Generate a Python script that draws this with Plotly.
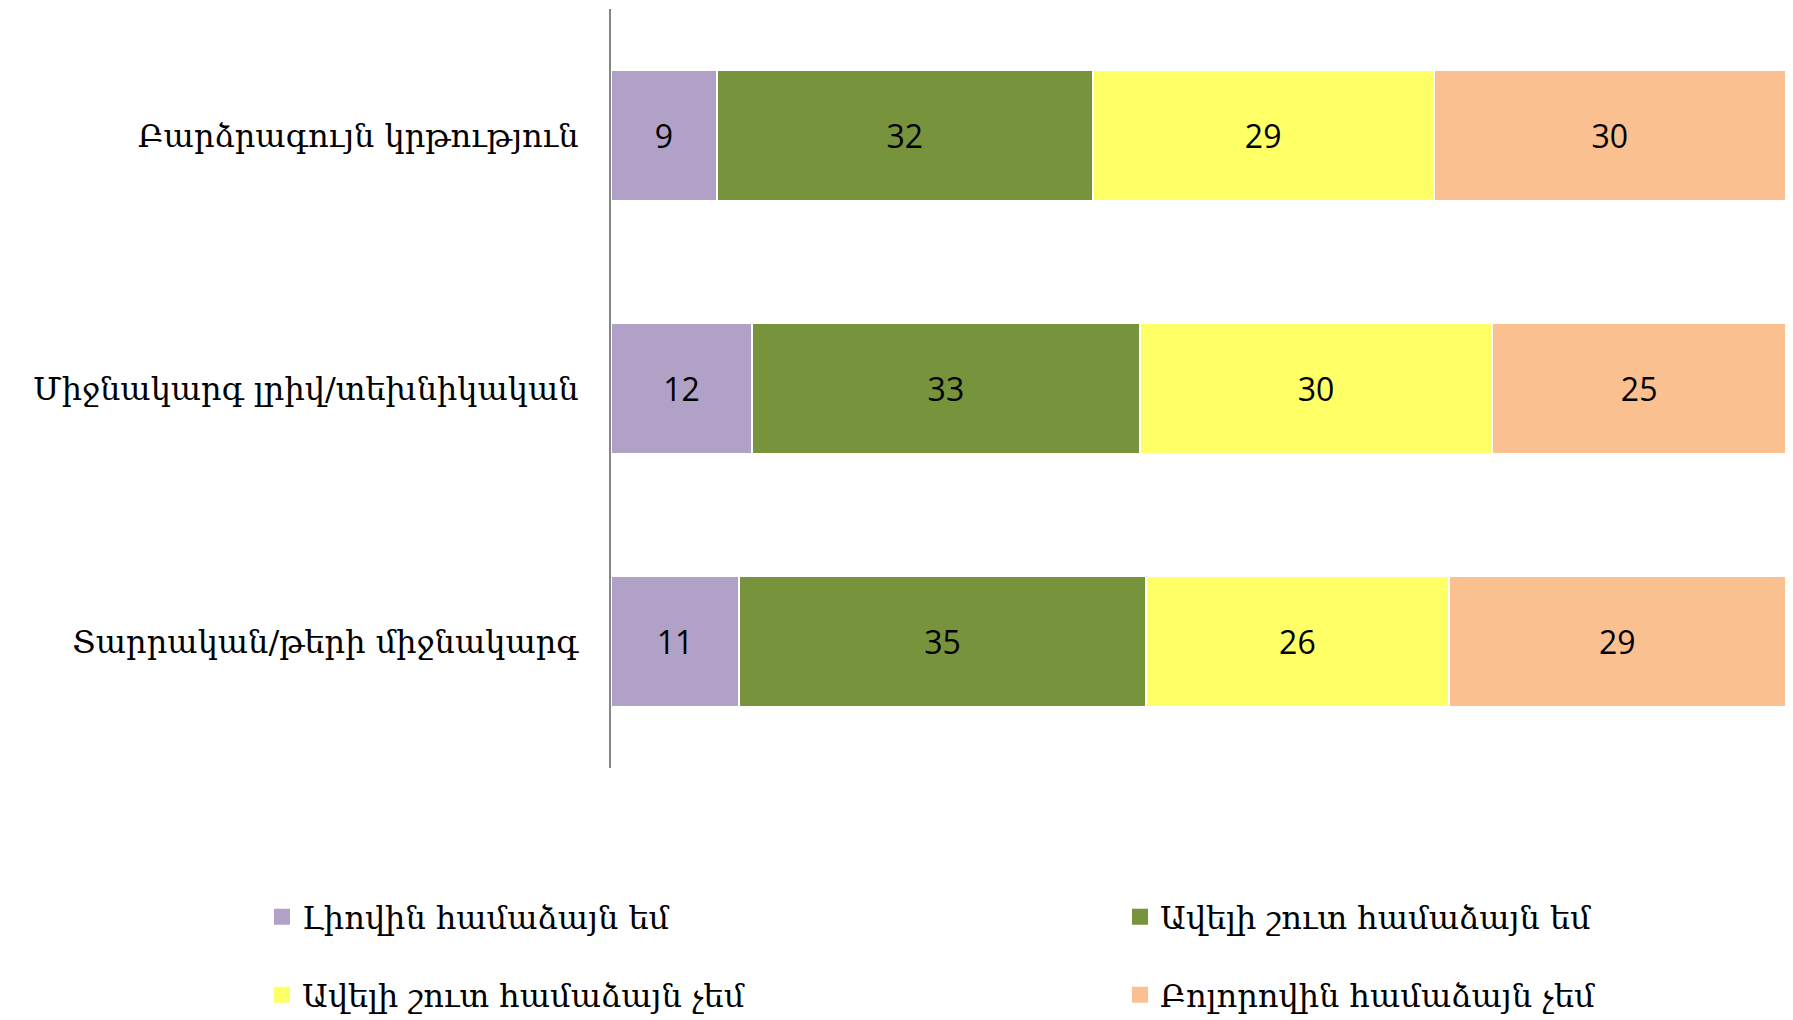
import plotly.graph_objects as go

categories = ["Բարձրագույն կրթություն", "Միջնակարգ լրիվ/տեխնիկական", "Տարրական/թերի միջնակարգ"]
series_names = ["Լիովին համաձայն եմ", "Ավելի շուտ համաձայն եմ", "Ավելի շուտ համաձայն չեմ", "Բոլորովին համաձայն չեմ"]
values_full = [9, 12, 11]
values_rather = [32, 33, 35]
values_rather_not = [29, 30, 26]
values_not = [30, 25, 29]
colors = ["#B2A1C7", "#77933C", "#FFFF66", "#FAC090"]

all_values = [values_full, values_rather, values_rather_not, values_not]
legend_ids = ["legend", "legend2", "legend3", "legend4"]

fig = go.Figure()
for name, vals, col in zip(series_names, all_values, colors):
    fig.add_trace(go.Bar(
        y=categories, x=vals, name=name, orientation="h",
        marker=dict(color=col, line=dict(color="white", width=2)),
        text=[str(v) for v in vals], textposition="inside", insidetextanchor="middle",
        textfont=dict(family="Open Sans, Liberation Sans, sans-serif", size=32, color="black"),
        showlegend=False, hoverinfo="skip",
    ))

# legend entries (square swatches)
for name, col, lg in zip(series_names, colors, legend_ids):
    fig.add_trace(go.Scatter(
        x=[None], y=[None], mode="markers", name=name, legend=lg,
        marker=dict(symbol="square", size=16, color=col), hoverinfo="skip",
    ))

legend_font = dict(family="DejaVu Serif, serif", size=32, color="black")
# the page body adds an 8px offset; figure coordinates are page coordinates - 8
W, H = 1785, 1012
ML, MR, MT, MB = 603, 7, 1, 252
plot_width = W - ML - MR
plot_height = H - MT - MB

def lx(page_x):
    return (page_x - 8 - ML) / plot_width

def ly(page_y):
    return (H - MB - (page_y - 8)) / plot_height

legend_pos = [(262, 917), (1120, 917), (262, 995), (1120, 995)]
legend_layout = {}
for lg, (px, py) in zip(legend_ids, legend_pos):
    legend_layout[lg] = dict(x=lx(px), y=ly(py), xanchor="left", yanchor="middle",
                             font=legend_font, bgcolor="rgba(0,0,0,0)",
                             itemclick=False, itemdoubleclick=False, borderwidth=0)

fig.update_layout(
    barmode="stack", barnorm="percent", bargap=0.48,
    width=W, height=H,
    margin=dict(l=ML, r=MR, t=MT, b=MB, autoexpand=False),
    paper_bgcolor="white", plot_bgcolor="white",
    xaxis=dict(range=[0, 100], visible=False, fixedrange=True),
    yaxis=dict(categoryorder="array", categoryarray=categories, autorange="reversed",
               showline=True, linecolor="#868686", linewidth=2, ticks="",
               tickfont=dict(family="DejaVu Serif, serif", size=32, color="black"),
               ticklabelstandoff=24, showgrid=False, fixedrange=True),
    uniformtext=dict(mode="show", minsize=10),
    **legend_layout,
)
fig.write_html("out.html")
